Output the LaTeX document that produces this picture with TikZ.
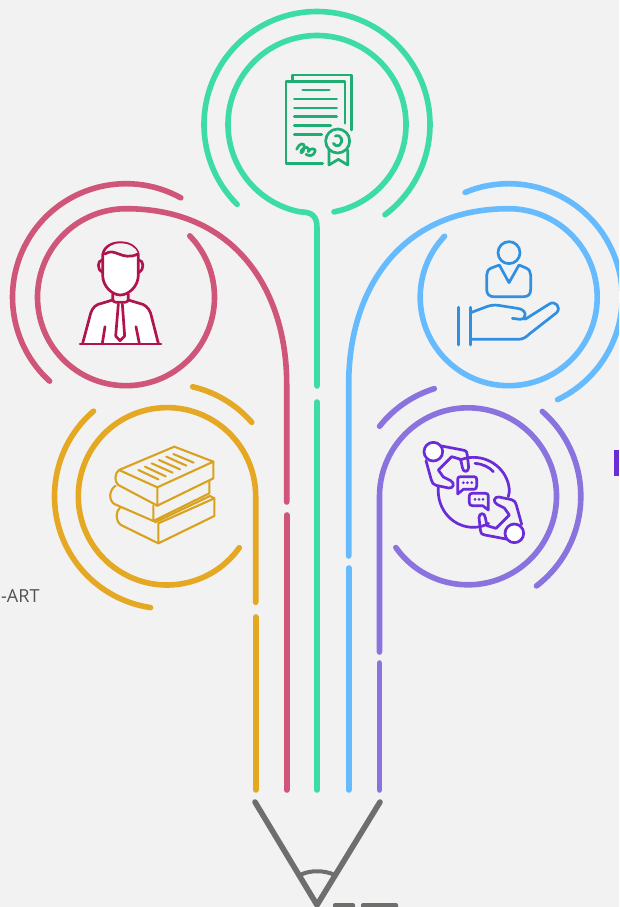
\documentclass[tikz,border=0pt]{standalone}
\usepackage{fontspec}
\setmainfont{Open Sans}
\definecolor{bgc}{HTML}{F2F2F2}
\definecolor{cgreen}{HTML}{3DDBA5}
\definecolor{cred}{HTML}{CF5679}
\definecolor{cyellow}{HTML}{E5A823}
\definecolor{cblue}{HTML}{66BBFF}
\definecolor{cpurple}{HTML}{8A72DF}
\definecolor{cgray}{HTML}{6E6E6C}
\definecolor{icgreen}{HTML}{1EAD72}
\definecolor{icred}{HTML}{B0144F}
\definecolor{icblue}{HTML}{2F8FE0}
\definecolor{icyellow}{HTML}{D9A21E}
\definecolor{icpurple}{HTML}{6A2BD9}
\tikzset{
  ring/.style={line width=5.6pt,line cap=round,line join=round},
  icon/.style={line width=2.7pt,line cap=round,line join=round},
  zoomed/.style={shift={#1},x=0.33333pt,y=-0.33333pt}
}
\newcommand{\ringarc}[6]{\draw[ring,#1] ([shift={(#5:#4pt)}]#2,-#3) arc[start angle=#5,end angle=#6,radius=#4pt];}
\newcommand{\talker}{%
  \draw[icon,icpurple] (95,48) -- (158,60) .. controls (170,62) and (172,68) .. (172,76) -- (176,112) .. controls (176,128) and (158,128) .. (157,112) -- (152,88) -- (125,80) -- (85,120) -- (100,141) -- (122,152) .. controls (136,160) and (130,176) .. (116,174) -- (78,166) .. controls (70,164) and (66,158) .. (64,150) -- (48,92);
  \draw[icon,icpurple,fill=white] (70,65) circle[radius=28];
}
\begin{document}
\begin{tikzpicture}[x=1pt,y=1pt]
\useasboundingbox (0,0) rectangle (619,-907);
\clip (0,0) rectangle (619,-907);
\fill[bgc] (0,0) rectangle (619,-907);

% green
\ringarc{cgreen}{317}{124.5}{113}{-53}{225}
\draw[ring,cgreen] ([shift={(-79:89pt)}]317,-124.5) arc[start angle=-79,end angle=259,radius=89pt] .. controls (312,-212) and (317,-216) .. (317,-228) -- (317,-386);
\draw[ring,cgreen] (317,-402) -- (317,-790);

% red
\ringarc{cred}{126}{297.2}{113.5}{61.1}{227.7}
\draw[ring,cred] ([shift={(43.9:88.5pt)}]126,-297.2) arc[start angle=43.9,end angle=-270,radius=88.5pt] .. controls (235,-208.7) and (286.7,-290) .. (286.7,-384) -- (286.7,-502);
\draw[ring,cred] (286.7,-515) -- (286.7,-790);

% blue
\ringarc{cblue}{508.7}{297.2}{113.5}{112.6}{-64.5}
\draw[ring,cblue] ([shift={(136.5:88.5pt)}]508.7,-297.2) arc[start angle=136.5,end angle=450,radius=88.5pt] .. controls (400,-208.7) and (348.7,-290) .. (348.7,-384) -- (348.7,-556);
\draw[ring,cblue] (348.7,-568) -- (348.7,-790);

% yellow
\ringarc{cyellow}{167}{496.3}{112.5}{130.8}{261.6}
\ringarc{cyellow}{167}{496.3}{112.5}{76.8}{41.1}
\draw[ring,cyellow] ([shift={(-35.4:88.7pt)}]167,-496.3) arc[start angle=-35.4,end angle=-360,radius=88.7pt] -- (255.7,-602.3);
\draw[ring,cyellow] (255.7,-617) -- (255.7,-790);

% purple
\ringarc{cpurple}{468}{496.3}{112.8}{141.6}{107.4}
\ringarc{cpurple}{468}{496.3}{112.8}{48.8}{-52.6}
\draw[ring,cpurple] ([shift={(215.4:88.5pt)}]468,-496.3) arc[start angle=215.4,end angle=540,radius=88.5pt] -- (379.5,-652);
\draw[ring,cpurple] (379.5,-663) -- (379.5,-790);

% pencil
\draw[ring,cgray] (255,-802) -- (317,-905) -- (380,-802);
\draw[line width=4pt,cgray] (300,-875) .. controls (310,-870) and (324,-870) .. (335,-875);
\fill[cgray,rounded corners=2pt] (333,-903) rectangle (355,-912);
\fill[cgray,rounded corners=2pt] (361,-903) rectangle (398,-912);

% text fragments
\node[anchor=base west,inner sep=0pt,text=black!68,font=\fontsize{18}{20}\selectfont] (artlabel) at (1,-602) {-ART};
\fill[icpurple] (614,-450) rectangle (619,-476);

% certificate
\begin{scope}[zoomed={(260,-60)},icgreen]
\draw[icon] (188,310) -- (78,310) -- (78,65) -- (255,65) -- (255,190);
\draw[icon] (98,62) -- (98,45) -- (275,45) -- (275,210);
\draw[icon] (128,90) -- (208,90);
\draw[icon] (103,117) -- (230,117);
\draw[icon] (103,144) -- (230,144);
\draw[icon] (103,170) -- (230,170);
\draw[icon] (103,197) -- (212,197);
\draw[icon] (103,223) -- (185,223);
\draw[icon] (110,268) .. controls (116,250) and (135,245) .. (133,262) .. controls (130,280) and (118,285) .. (125,270) .. controls (135,255) and (150,262) .. (145,275) .. controls (150,262) and (170,265) .. (165,275) .. controls (160,290) and (145,288) .. (138,283);
\draw[icon] (233,243) circle[radius=36];
\draw[icon] (226,228) .. controls (245,222) and (252,245) .. (238,256) .. controls (232,260) and (224,258) .. (220,250);
\draw[icon] (207,270) -- (207,315) -- (235,298) -- (263,315) -- (263,270);
\end{scope}

% man
\begin{scope}[zoomed={(60,-230)},icred]
\fill[white] (68,340) -- (92,250) .. controls (97,232) and (110,222) .. (125,220) -- (158,210) -- (205,210) -- (238,220) .. controls (252,222) and (266,232) .. (272,250) -- (295,340) -- cycle;
\draw[icon,fill=white] (128,85) .. controls (125,55) and (150,38) .. (181,38) .. controls (212,38) and (238,55) .. (235,85) -- (235,135) .. controls (235,170) and (205,195) .. (181,195) .. controls (157,195) and (128,170) .. (128,135) -- cycle;
\fill[bgc] (135,72) .. controls (165,50) and (185,95) .. (234,72) .. controls (228,50) and (205,40) .. (181,40) .. controls (157,40) and (140,52) .. (135,72) -- cycle;
\draw[icon] (135,72) .. controls (165,50) and (185,95) .. (234,72);
\draw[icon] (127,90) .. controls (112,90) and (110,120) .. (128,128);
\draw[icon] (236,90) .. controls (252,90) and (254,120) .. (236,128);
\draw[icon] (158,192) -- (158,207) .. controls (158,213) and (162,217) .. (168,217) -- (195,217) .. controls (201,217) and (205,213) .. (205,207) -- (205,192);
\draw[icon] (68,340) -- (92,250) .. controls (97,232) and (110,222) .. (125,220) -- (158,210);
\draw[icon] (295,340) -- (272,250) .. controls (266,232) and (252,222) .. (238,220) -- (205,210);
\draw[icon] (60,342) -- (303,342);
\draw[icon] (135,290) -- (127,340);
\draw[icon] (228,290) -- (238,340);
\draw[icon] (175,222) -- (167,318) -- (180,332) -- (194,318) -- (187,222);
\end{scope}

% hand
\begin{scope}[zoomed={(440,-230)},icblue]
\draw[icon] (207,68) circle[radius=33];
\draw[icon] (178,105) -- (207,158) -- (237,105) -- (258,114) .. controls (268,118) and (272,126) .. (272,136) -- (272,178) .. controls (272,192) and (265,200) .. (252,200) -- (160,200) .. controls (148,200) and (140,192) .. (140,178) -- (140,136) .. controls (140,126) and (144,118) .. (154,114) -- cycle;
\draw[icon] (55,232) -- (55,345);
\draw[icon] (92,232) -- (92,345);
\draw[icon] (92,248) -- (140,230) .. controls (150,226) and (165,224) .. (175,226) -- (232,235) .. controls (262,238) and (262,268) .. (240,268) -- (217,265);
\draw[icon] (255,268) -- (328,222) .. controls (345,210) and (365,232) .. (350,248) -- (268,312) .. controls (258,322) and (248,328) .. (235,328) -- (92,328);
\end{scope}

% books
\begin{scope}[zoomed={(95,-435)},icyellow]
\tikzset{icon/.append style={line width=2.1pt}}
\draw[icon] (72,105) -- (238,35) -- (355,80) -- (187,157) -- cycle;
\draw[icon] (355,80) -- (355,130) -- (187,212) -- (187,157);
\draw[icon] (72,105) .. controls (58,115) and (58,140) .. (70,150) -- (187,212);
\draw[icon] (62,152) .. controls (42,165) and (40,195) .. (58,207) -- (175,258) -- (175,212);
\draw[icon] (175,258) -- (343,175) -- (343,138);
\draw[icon] (75,218) .. controls (62,228) and (60,258) .. (78,270) -- (190,325) -- (358,243) -- (358,190) -- (190,265) -- (190,325);
\draw[icon] (180,262) -- (345,183) -- (358,190);
\draw[icon] (130,105) -- (190,133);
\draw[icon] (150,95) -- (212,124);
\draw[icon] (170,85) -- (233,113);
\draw[icon] (192,75) -- (255,103);
\draw[icon] (214,65) -- (274,92);
\draw[icon] (235,57) -- (296,83);
\end{scope}

% talkers
\begin{scope}[zoomed={(410,-430)},icpurple]
\draw[icon] (150,90) .. controls (165,84) and (178,82) .. (190,82);
\draw[icon] (195,100) .. controls (220,102) and (238,112) .. (250,125);
\draw[icon] (190,82) .. controls (250,82) and (298,130) .. (298,185) -- (295,200);
\draw[icon] (85,172) .. controls (80,240) and (130,292) .. (190,292) .. controls (207,292) and (222,288) .. (236,280);
\talker
\begin{scope}[rotate around={180:(191.5,187.5)}]
\talker
\end{scope}
\draw[icon] (143,192) -- (143,148) .. controls (143,142) and (146,140) .. (152,140) -- (192,140) .. controls (198,140) and (200,143) .. (200,148) -- (200,168) .. controls (200,175) and (197,178) .. (191,178) -- (160,178) -- cycle;
\draw[icon] (235,240) -- (235,198) .. controls (235,192) and (232,190) .. (226,190) -- (186,190) .. controls (180,190) and (178,193) .. (178,198) -- (178,218) .. controls (178,224) and (181,227) .. (187,227) -- (218,227) -- cycle;
\fill (160,158) circle[radius=4.5] (172,158) circle[radius=4.5] (185,158) circle[radius=4.5];
\fill (195,208) circle[radius=4.5] (207,208) circle[radius=4.5] (219,208) circle[radius=4.5];
\end{scope}
\end{tikzpicture}
\end{document}
